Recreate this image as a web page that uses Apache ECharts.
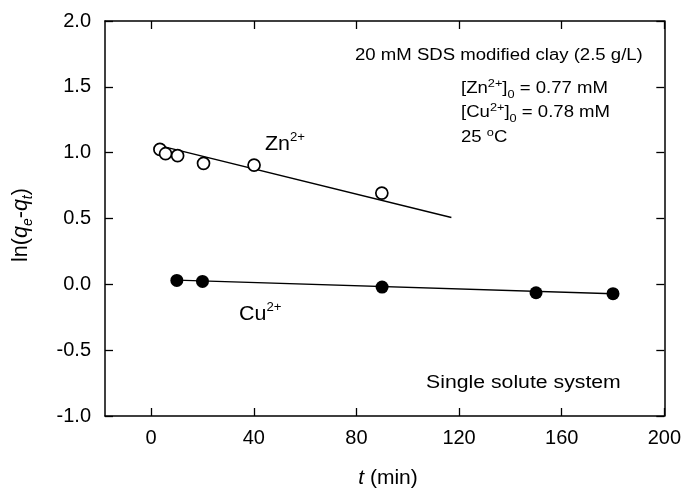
<!DOCTYPE html>
<html>
<head>
<meta charset="utf-8">
<script src="https://cdn.jsdelivr.net/npm/echarts@6/dist/echarts.min.js"></script>
<style>
html,body{margin:0;padding:0;background:#fff;}
#chart{width:684px;height:492px;}
</style>
</head>
<body>
<div id="chart"></div>
<script>
// ---- data ----
const xTickValues = [0, 40, 80, 120, 160, 200];
const znTime  = [3.4, 5.6, 10.3, 20.4, 40.1, 89.9];
const znValue = [1.025, 0.992, 0.977, 0.919, 0.906, 0.693];
const cuTime  = [10, 20, 90, 150, 180];
const cuValue = [0.030, 0.022, -0.021, -0.064, -0.071];
const znFitTime  = [4, 117];
const znFitValue = [1.05, 0.508];
const cuFitTime  = [10, 180];
const cuFitValue = [0.032, -0.072];

const FONT = '"Liberation Sans", Arial, Helvetica, sans-serif';
const zip = (a, b) => a.map((v, i) => [v, b[i]]);

const chart = echarts.init(document.getElementById('chart'), null, {renderer: 'canvas'});

const axisLine = {show: true, onZero: false, lineStyle: {color: '#000', width: 1.5}};
const tick = {show: true, inside: true, length: 8, lineStyle: {color: '#000', width: 1.3}};

function txt(x, y, text, fontSize, scaleX, rich) {
  return {
    type: 'text', x: x, y: y, scaleX: scaleX || 1, silent: true,
    style: {
      text: text, fontSize: fontSize, fontFamily: FONT, fill: '#000',
      lineHeight: Math.round(fontSize * 1.35),
      align: 'left', verticalAlign: 'middle',
      textAlign: 'left', textVerticalAlign: 'middle',
      rich: rich || {}
    }
  };
}
function supsub(fs) {
  const s = Math.round(fs * 0.68);
  return {
    sup: {fontSize: s, fontFamily: FONT, fill: '#000', lineHeight: s + 1, verticalAlign: 'top'},
    sub: {fontSize: s, fontFamily: FONT, fill: '#000', lineHeight: s + 1, verticalAlign: 'bottom'}
  };
}

const option = {
  animation: false,
  backgroundColor: '#fff',
  grid: {left: 105, right: 19, top: 21, bottom: 76, containLabel: false},
  xAxis: [
    {
      type: 'value', min: -18, max: 200, position: 'bottom',
      axisLine: axisLine,
      axisTick: Object.assign({customValues: xTickValues}, tick),
      axisLabel: {customValues: xTickValues, color: '#000', fontSize: 20, fontFamily: FONT, margin: 12},
      splitLine: {show: false}
    },
    {
      type: 'value', min: -18, max: 200, position: 'top',
      axisLine: axisLine,
      axisTick: Object.assign({customValues: xTickValues}, tick),
      axisLabel: {show: false},
      splitLine: {show: false}
    }
  ],
  yAxis: [
    {
      type: 'value', min: -1, max: 2, interval: 0.5, position: 'left',
      axisLine: axisLine, axisTick: tick,
      axisLabel: {color: '#000', fontSize: 20, fontFamily: FONT, margin: 14,
        formatter: v => v.toFixed(1)},
      splitLine: {show: false}
    },
    {
      type: 'value', min: -1, max: 2, interval: 0.5, position: 'right',
      axisLine: axisLine, axisTick: tick,
      axisLabel: {show: false},
      splitLine: {show: false}
    }
  ],
  series: [
    {
      type: 'line', data: zip(znFitTime, znFitValue), showSymbol: false, z: 2,
      lineStyle: {color: '#000', width: 1.4}, silent: true
    },
    {
      type: 'line', data: zip(cuFitTime, cuFitValue), showSymbol: false, z: 2,
      lineStyle: {color: '#000', width: 1.4}, silent: true
    },
    {
      type: 'scatter', data: zip(znTime, znValue), symbol: 'circle', symbolSize: 12, z: 3,
      itemStyle: {color: '#fff', borderColor: '#000', borderWidth: 1.7, opacity: 1}
    },
    {
      type: 'scatter', data: zip(cuTime, cuValue), symbol: 'circle', symbolSize: 13, z: 3,
      itemStyle: {color: '#000', opacity: 1}
    }
  ],
  graphic: [
    txt(355, 56, '20 mM SDS modified clay (2.5 g/L)', 16, 1.16),
    txt(461, 89, '[Zn{sup|2+}]{sub|0} = 0.77 mM', 16, 1.16, supsub(16)),
    txt(461, 113, '[Cu{sup|2+}]{sub|0} = 0.78 mM', 16, 1.16, supsub(16)),
    txt(461, 138, '25 {sup|o}C', 16, 1.16, supsub(16)),
    txt(265, 145, 'Zn{sup|2+}', 19.5, 1.1, supsub(17.5)),
    txt(239, 315, 'Cu{sup|2+}', 19.5, 1.1, supsub(17.5)),
    txt(426, 383, 'Single solute system', 18, 1.18),
    {
      type: 'text', x: 388, y: 478, silent: true,
      style: {
        text: '{i|t} (min)', fontSize: 21, fontFamily: FONT, fill: '#000', lineHeight: 28,
        align: 'center', verticalAlign: 'middle', textAlign: 'center', textVerticalAlign: 'middle',
        rich: {i: {fontSize: 21, fontFamily: FONT, fontStyle: 'italic', fill: '#000', lineHeight: 28}}
      }
    },
    {
      type: 'text', x: 21, y: 225, rotation: Math.PI / 2, silent: true,
      style: {
        text: 'ln({i|q}{si|e}-{i|q}{si|t})',
        fontSize: 21.5, fontFamily: FONT, fill: '#000', lineHeight: 28,
        align: 'center', verticalAlign: 'middle', textAlign: 'center', textVerticalAlign: 'middle',
        rich: {
          i: {fontSize: 21.5, fontFamily: FONT, fontStyle: 'italic', fill: '#000', lineHeight: 28},
          si: {fontSize: 14, fontFamily: FONT, fontStyle: 'italic', fill: '#000', lineHeight: 15, verticalAlign: 'bottom'}
        }
      }
    }
  ]
};
chart.setOption(option);
</script>
</body>
</html>
